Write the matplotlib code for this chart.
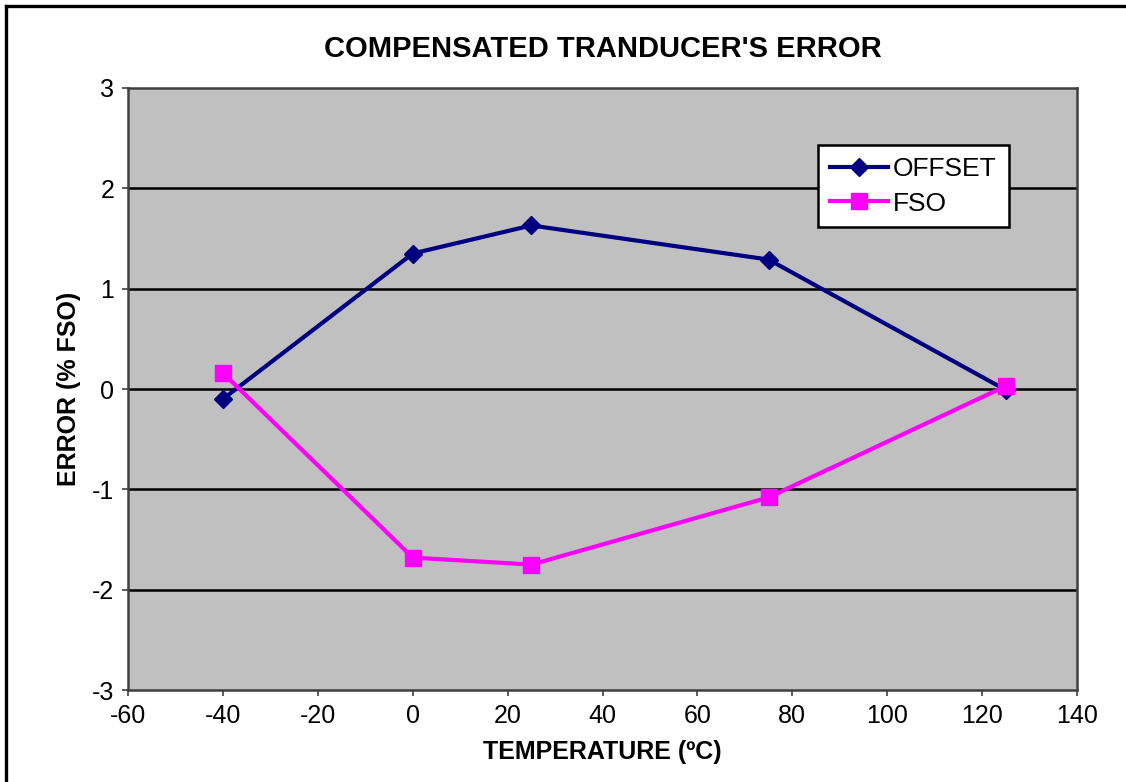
import matplotlib
matplotlib.use("Agg")
import matplotlib.pyplot as plt
from matplotlib.lines import Line2D

plt.rcParams['font.family'] = ['Liberation Sans', 'DejaVu Sans']
plt.rcParams['axes.unicode_minus'] = False

# temperature points (degC)
temps = [-40, 0, 25, 75, 125]
# error values (% FSO)
offset_err = [-0.10, 1.35, 1.63, 1.29, -0.01]
fso_err = [0.16, -1.68, -1.75, -1.08, 0.03]

x_ticks = [-60, -40, -20, 0, 20, 40, 60, 80, 100, 120, 140]
y_ticks = [-3, -2, -1, 0, 1, 2, 3]

fig = plt.figure(figsize=(11.26, 7.82), dpi=100)
ax = fig.add_axes([0.1137, 0.1176, 0.8428, 0.7699])
ax.set_facecolor('#C0C0C0')

# horizontal grid lines
for yv in y_ticks[1:-1]:
    ax.axhline(yv, color='black', lw=1.8, zorder=1)

ax.plot(temps, offset_err, color='#000080', lw=3, marker='D', ms=9,
        label='OFFSET', zorder=3)
ax.plot(temps, fso_err, color='#FF00FF', lw=3, marker='s', ms=11,
        label='FSO', zorder=3)

ax.set_xlim(-60, 140)
ax.set_ylim(-3, 3)
ax.set_xticks(x_ticks)
ax.set_yticks(y_ticks)
ax.tick_params(direction='out', length=4, width=1.2, color='#404040',
               labelsize=18, pad=6)
for s in ax.spines.values():
    s.set_color('#404040')
    s.set_linewidth(1.8)

ax.set_title("COMPENSATED TRANDUCER'S ERROR", fontsize=21, fontweight='bold', pad=22)
ax.set_xlabel('TEMPERATURE (ºC)', fontsize=18, fontweight='bold', labelpad=9)
ax.set_ylabel('ERROR (% FSO)', fontsize=18, fontweight='bold', labelpad=8)

leg = ax.legend(loc='upper left', bbox_to_anchor=(0.727, 0.905), fontsize=19,
                frameon=True, fancybox=False, edgecolor='black', framealpha=1,
                handlelength=2.2, handletextpad=0.2, borderpad=0.45,
                labelspacing=0.4, borderaxespad=0)
leg.get_frame().set_linewidth(1.8)

# outer border of the figure
x0 = 6 / 1126
y1 = 1 - 6 / 782
fig.add_artist(Line2D([x0, x0], [0, y1], transform=fig.transFigure, color='black', lw=2.4))
fig.add_artist(Line2D([x0, 1], [y1, y1], transform=fig.transFigure, color='black', lw=2.4))

fig.savefig('out.png', dpi=100)
